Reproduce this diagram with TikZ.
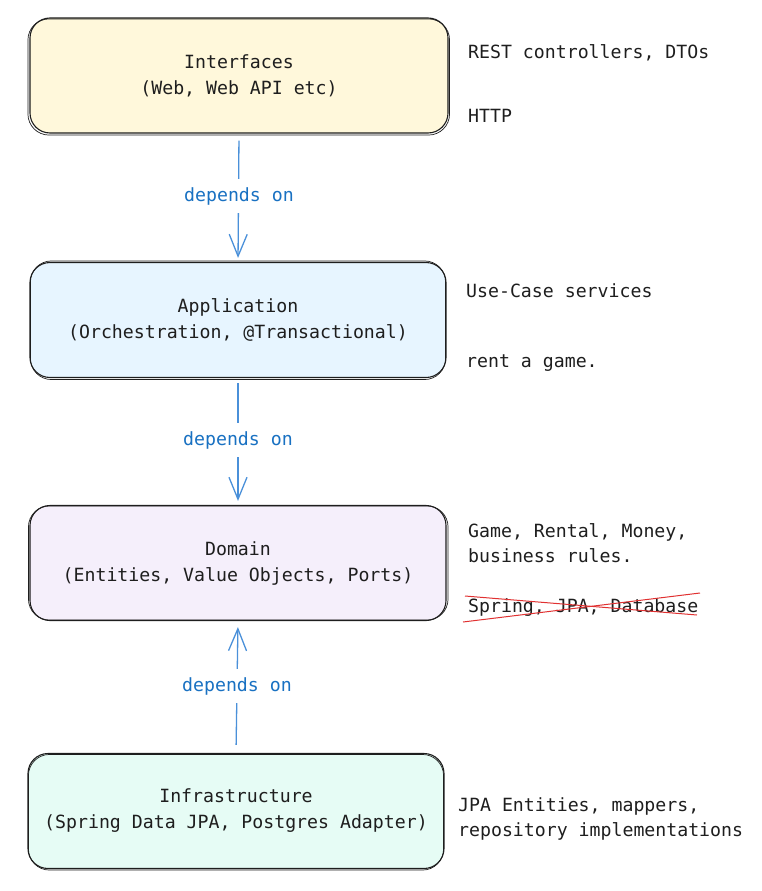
\documentclass[tikz,border=0pt]{standalone}
\usepackage{fontspec}
\setmonofont{DejaVu Sans Mono}
\usetikzlibrary{arrows.meta}
\definecolor{inkc}{HTML}{1E1E1E}
\definecolor{lblc}{HTML}{1971C2}
\definecolor{arrc}{HTML}{4A90D9}
\definecolor{redc}{HTML}{E03131}
\definecolor{fyel}{HTML}{FFF8DB}
\definecolor{fblu}{HTML}{E7F5FF}
\definecolor{fpur}{HTML}{F5EFFB}
\definecolor{fmin}{HTML}{E6FCF5}
\tikzset{
  layer/.style={draw=inkc, line width=1.1pt, rounded corners=20pt, minimum width=416pt, minimum height=115pt, align=center, font=\ttfamily\fontsize{18.2}{26}\selectfont, text=inkc},
  sidetxt/.style={anchor=west, inner sep=0pt, text height=13pt, text depth=4pt, font=\ttfamily\fontsize{18.2}{24}\selectfont, text=inkc},
  deplbl/.style={fill=white, inner xsep=3pt, inner ysep=8pt, text=lblc, font=\ttfamily\fontsize{18.2}{24}\selectfont},
  deparrow/.style={draw=arrc, line width=1.3pt, -{Straight Barb[length=22pt,width=18pt,line width=1.3pt]}},
  sketch/.style={draw=inkc, line width=0.7pt, rounded corners=21pt}
}
\begin{document}
\begin{tikzpicture}[x=1pt,y=-1pt]
\useasboundingbox (0,0) rectangle (761,891);
% boxes
\node[layer, fill=fyel, minimum width=418pt] (itf) at (239,75.5) {Interfaces\\(Web, Web API etc)};
\node[layer, fill=fblu] (app) at (238,320) {Application\\(Orchestration, @Transactional)};
\node[layer, fill=fpur] (dom) at (238,563) {Domain\\(Entities, Value Objects, Ports)};
\node[layer, fill=fmin] (inf) at (236,811) {Infrastructure\\(Spring Data JPA, Postgres Adapter)};
% sketchy second strokes
\draw[sketch] ([shift={(-1.5,1.5)}]itf.north west) rectangle ([shift={(1,1.5)}]itf.south east);
\draw[sketch] ([shift={(1,-1)}]app.north west) rectangle ([shift={(-1,1.5)}]app.south east);
\draw[sketch] ([shift={(-1,1)}]dom.north west) rectangle ([shift={(1.5,-1)}]dom.south east);
\draw[sketch] ([shift={(1,1.5)}]inf.north west) rectangle ([shift={(-1,1)}]inf.south east);
% arrows
\draw[deparrow, shorten <=7pt, shorten >=4pt] (itf.south) -- (app.north);
\node[deplbl] (l1) at (239,196) {depends on};
\draw[deparrow, shorten <=5pt, shorten >=4pt] (app.south) -- (dom.north);
\node[deplbl] (l2) at (238,440) {depends on};
\draw[deparrow, shorten <=8pt, shorten >=6pt] (inf.north) -- (dom.south);
\node[deplbl] (l3) at (237,686) {depends on};
% side texts
\node[sidetxt] (t1) at (468,54) {REST controllers, DTOs};
\node[sidetxt] (t2) at (468,118) {HTTP};
\node[sidetxt] (t3) at (466,293) {Use-Case services};
\node[sidetxt] (t4) at (466,363) {rent a game.};
\node[sidetxt] (t5) at (468,533) {Game, Rental, Money,};
\node[sidetxt] (t6) at (468,558) {business rules.};
\node[sidetxt] (t7) at (468,608) {Spring, JPA, Database};
\node[sidetxt] (t8) at (458,807) {JPA Entities, mappers,};
\node[sidetxt] (t9) at (458,832) {repository implementations};
% strike-through
\coordinate (x1) at (465,596);
\coordinate (x2) at (697,615);
\coordinate (x3) at (463,622);
\coordinate (x4) at (700,593);
\draw[redc, line width=1pt] (x1) -- (x2);
\draw[redc, line width=1pt] (x3) -- (x4);
\end{tikzpicture}
\end{document}
